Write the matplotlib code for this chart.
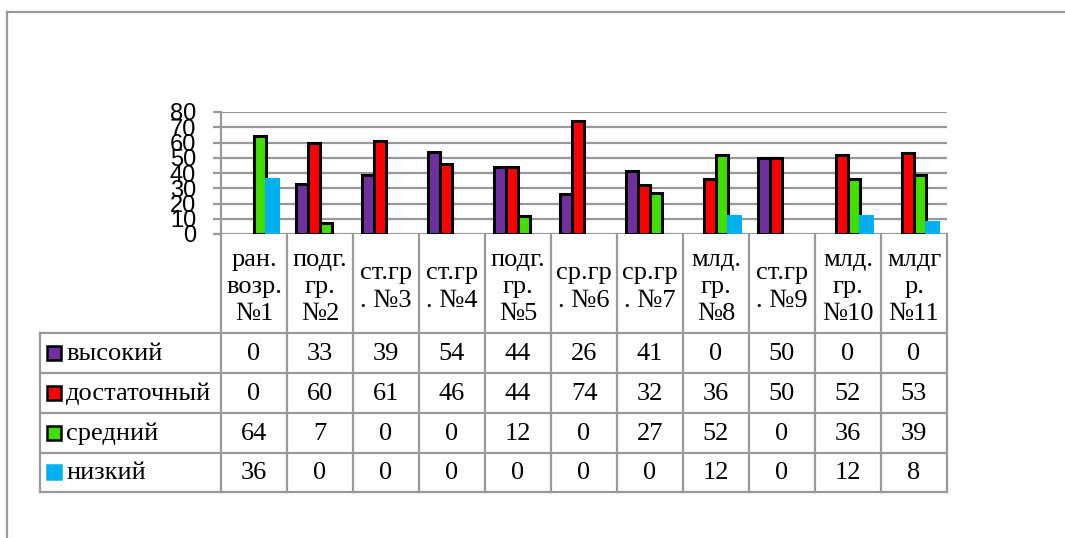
import matplotlib
matplotlib.use("Agg")
import matplotlib.pyplot as plt
from matplotlib.patches import Rectangle
from matplotlib.lines import Line2D

categories = ["ран.\nвозр.\n№1", "подг.\nгр.\n№2", "ст.гр\n. №3", "ст.гр\n. №4",
              "подг.\nгр.\n№5", "ср.гр\n. №6", "ср.гр\n. №7", "млд.\nгр.\n№8",
              "ст.гр\n. №9", "млд.\nгр.\n№10", "млдг\nр.\n№11"]
series_names = ["высокий", "достаточный", "средний", "низкий"]
vysokiy = [0, 33, 39, 54, 44, 26, 41, 0, 50, 0, 0]
dostatochny = [0, 60, 61, 46, 44, 74, 32, 36, 50, 52, 53]
sredniy = [64, 7, 0, 0, 12, 0, 27, 52, 0, 36, 39]
nizkiy = [36, 0, 0, 0, 0, 0, 0, 12, 0, 12, 8]
yticks = [0, 10, 20, 30, 40, 50, 60, 70, 80]

series = [vysokiy, dostatochny, sredniy, nizkiy]
colors = ["#7030A0", "#FF0000", "#3FE000", "#00B0F0"]
edges = ["black", "black", "black", "#00B0F0"]

W, H = 1065, 538
fig = plt.figure(figsize=(W / 100, H / 100), dpi=100)

def fx(px):
    return px / W

def fy(py):
    return 1 - py / H

GRAY = "#999999"

# outer border
fig.add_artist(Line2D([fx(7), fx(7)], [fy(12), fy(560)], color=GRAY, lw=1.6,
                      transform=fig.transFigure))
fig.add_artist(Line2D([fx(7), fx(1080)], [fy(12), fy(12)], color=GRAY, lw=1.6,
                      transform=fig.transFigure))

# main plot axes
cat_w = 66.0
ax = fig.add_axes([fx(221), fy(234), (947 - 221) / W, (234 - 112) / H])
n = len(categories)
ax.set_xlim(-0.5, n - 0.5)
ax.set_ylim(0, 80)
bw = 12 / cat_w
offsets = [-1.5 * bw, -0.5 * bw, 0.5 * bw, 1.5 * bw]
for s, vals in enumerate(series):
    xs = [i + offsets[s] for i in range(n)]
    lws = [2.2 if v > 0 else 0 for v in vals]
    ax.bar(xs, vals, width=bw, color=colors[s], edgecolor=edges[s],
           linewidth=lws, zorder=3)
ax.set_yticks(yticks)
ax.set_yticklabels([str(t) for t in yticks], family="Liberation Sans", fontsize=17)
ax.yaxis.grid(True, color=GRAY, lw=1.6, zorder=0)
ax.set_axisbelow(True)
ax.tick_params(axis="y", length=6, width=1.6, color=GRAY, pad=12)
ax.set_xticks([])
for sp in ["top", "right", "bottom"]:
    ax.spines[sp].set_visible(False)
ax.spines["left"].set_color(GRAY)
ax.spines["left"].set_linewidth(1.6)

# table axes
left_px = 40
tax = fig.add_axes([fx(left_px), fy(492), (947 - left_px) / W, (492 - 234) / H])
x_left = -0.5 - (221 - left_px) / cat_w
tax.set_xlim(x_left, n - 0.5)
tax.set_ylim(258, 0)
tax.axis("off")
rows_y = [0, 99, 139, 179, 218.5, 258]

# vertical lines
for k in range(n + 1):
    tax.plot([k - 0.5, k - 0.5], [0, 258], color=GRAY, lw=1.6, clip_on=False)
tax.plot([x_left, x_left], [99, 258], color=GRAY, lw=1.6, clip_on=False)
# horizontal lines
for yy in rows_y[1:]:
    tax.plot([x_left, n - 0.5], [yy, yy], color=GRAY, lw=1.6, clip_on=False)

serif = "Liberation Serif"
fs = 19
for i, c in enumerate(categories):
    tax.text(i, 53, c, ha="center", va="center", family=serif,
             fontsize=fs, linespacing=1.3)

for r, (name, vals) in enumerate(zip(series_names, series)):
    yc = (rows_y[r + 1] + rows_y[r + 2]) / 2
    sq = 14 / cat_w
    sx = x_left + (47 - left_px) / cat_w
    tax.add_patch(Rectangle((sx, yc - 7), sq, 14, facecolor=colors[r],
                            edgecolor=edges[r], lw=1.8, clip_on=False))
    tax.text(x_left + (66 - left_px) / cat_w, yc + 1, name, ha="left", va="center",
             family=serif, fontsize=fs)
    for i, v in enumerate(vals):
        tax.text(i, yc + 1, str(v), ha="center", va="center", family=serif,
                 fontsize=fs)

fig.savefig("out.png", dpi=100)
